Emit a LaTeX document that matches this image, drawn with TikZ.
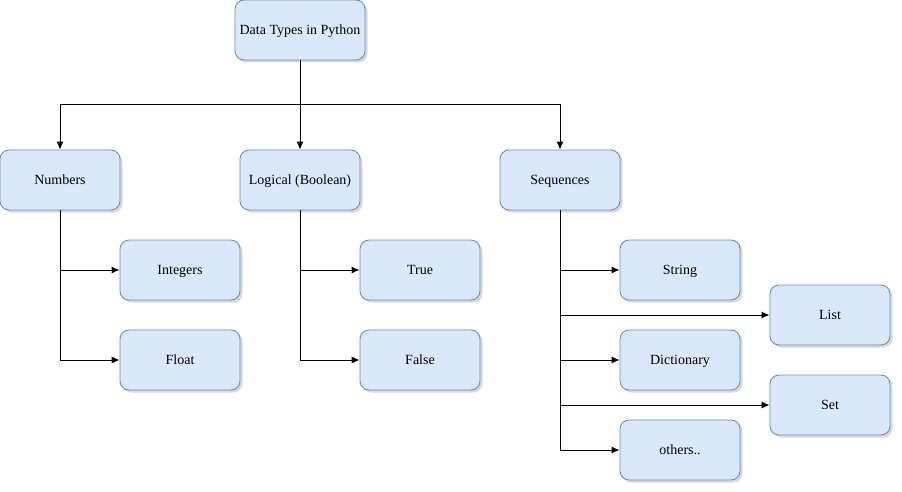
\documentclass[tikz,border=0pt]{standalone}
\usepackage{fontspec}
\setmainfont{Liberation Serif}
\usepackage{tikz}
\usetikzlibrary{arrows,arrows.meta,shapes,shadows}
\definecolor{boxfill}{HTML}{DAE8FC}
\definecolor{boxline}{HTML}{6C8EBF}
\begin{document}
\begin{tikzpicture}[x=1pt,y=-1pt]

		\tikzstyle{every node}=[font=\fontsize{14}{16}\selectfont]
		\tikzstyle{typebox}=[draw=boxline, fill=boxfill, line width=0.9pt, rounded corners=9pt, minimum width=120pt, minimum height=60pt, inner sep=0pt, text height=12pt, text depth=3pt, drop shadow={opacity=0.3, shadow xshift=2.5pt, shadow yshift=-2.5pt}]
		\tikzstyle{link}=[-{Latex[length=8pt,width=7pt]}, line width=1pt, black]

		\useasboundingbox (0,0) rectangle (902,492);

		% top and first level
		\node[typebox, minimum width=130pt] (types) at (300,30) {Data Types in Python};
		\node[typebox] (numbers) at (60,180) {Numbers};
		\node[typebox] (logical) at (300,180) {Logical (Boolean)};
		\node[typebox] (seq) at (560,180) {Sequences};

		% numbers
		\node[typebox] (integers) at (180,270) {Integers};
		\node[typebox] (float) at (180,360) {Float};

		% booleans
		\node[typebox] (true) at (420,270) {True};
		\node[typebox] (false) at (420,360) {False};

		% sequences
		\node[typebox] (string) at (680,270) {String};
		\node[typebox] (list) at (830,315) {List};
		\node[typebox] (dict) at (680,360) {Dictionary};
		\node[typebox] (set) at (830,405) {Set};
		\node[typebox] (others) at (680,450) {others..};

		\coordinate (split) at (300,105);
		\draw[line width=1pt] (types) -- (split);
		\draw[link] (split) -| (numbers);
		\draw[link] (split) -- (logical);
		\draw[link] (split) -| (seq);

		\draw[link] (numbers) |- (integers);
		\draw[link] (numbers) |- (float);
		\draw[link] (logical) |- (true);
		\draw[link] (logical) |- (false);

		\draw[link] (seq) |- (string);
		\draw[link] (seq) |- (list);
		\draw[link] (seq) |- (dict);
		\draw[link] (seq) |- (set);
		\draw[link] (seq) |- (others);

\end{tikzpicture}
\end{document}
